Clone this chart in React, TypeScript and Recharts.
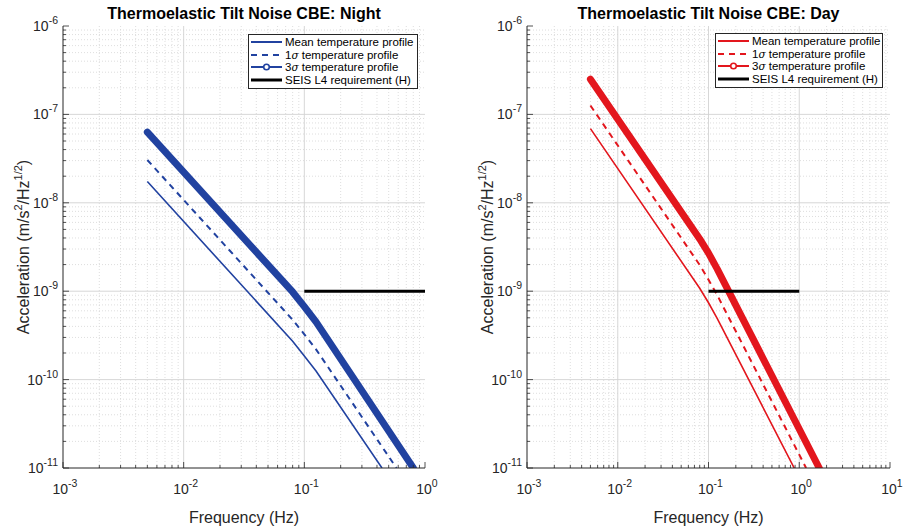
import { Legend, Line, LineChart, ReferenceLine, XAxis, YAxis } from "recharts";

const FONT = '"Liberation Sans", Arial, Helvetica, sans-serif';
const INK = "#262626";
const BLUE = "#2142a0";
const RED = "#e3161d";

// night profiles
const nightFreqMean = [0.005, 0.08, 0.1, 0.125, 0.44];
const nightMean = [1.74e-8, 2.72e-10, 1.85e-10, 1.25e-10, 1.0e-11];
const nightFreq1s = [0.005, 0.08, 0.1, 0.125, 0.58];
const night1s = [3.05e-8, 4.75e-10, 3.25e-10, 2.2e-10, 1.0e-11];
const nightFreq3s = [0.005, 0.08, 0.1, 0.125, 0.8];
const night3s = [6.3e-8, 9.8e-10, 6.7e-10, 4.5e-10, 1.0e-11];

// day profiles (right panel)
const dayFreqMean = [0.005, 0.08, 0.1, 0.125, 0.88];
const dayMean = [6.9e-8, 1.08e-9, 7.4e-10, 4.9e-10, 1.0e-11];
const dayFreq1s = [0.005, 0.08, 0.1, 0.125, 1.19];
const day1s = [1.26e-7, 1.98e-9, 1.35e-9, 9.0e-10, 1.0e-11];
const dayFreq3s = [0.005, 0.08, 0.1, 0.125, 1.66];
const day3s = [2.5e-7, 3.9e-9, 2.7e-9, 1.78e-9, 1.0e-11];

// SEIS L4 requirement
const reqFreq = [0.1, 1];
const reqLevel = [1e-9, 1e-9];

const seriesNames = [
  "Mean temperature profile",
  "1σ temperature profile",
  "3σ temperature profile",
  "SEIS L4 requirement (H)",
];

const yDecades = [1e-11, 1e-10, 1e-9, 1e-8, 1e-7, 1e-6];
const xDecadesNight = [1e-3, 1e-2, 1e-1, 1];
const xDecadesDay = [1e-3, 1e-2, 1e-1, 1, 10];
const minorSteps = [2, 3, 4, 5, 6, 7, 8, 9];

const pts = (fs: number[], as: number[]) => fs.map((f, i) => ({ f, a: as[i] }));
const minors = (decades: number[]) =>
  decades.slice(0, -1).flatMap((d) => minorSteps.map((m) => m * d));
const isMajor = (v: number) => Math.abs(Math.log10(v) - Math.round(Math.log10(v))) < 1e-6;
const expOf = (v: number) => Math.round(Math.log10(v));

function BottomTick(props: any) {
  const { x, y, payload } = props;
  const v = payload.value;
  const major = isMajor(v);
  return (
    <g>
      <line x1={x} y1={y} x2={x} y2={y - (major ? 6 : 3)} stroke={INK} strokeWidth={0.8} />
      {major && (
        <text x={x + 2} y={y + 26} textAnchor="middle" fontSize={14} fontFamily={FONT} fill={INK}>
          <tspan>10</tspan>
          <tspan dy={-7} fontSize={10.5}>
            {expOf(v)}
          </tspan>
        </text>
      )}
    </g>
  );
}

function LeftTick(props: any) {
  const { x, y, payload } = props;
  const v = payload.value;
  const major = isMajor(v);
  return (
    <g>
      <line x1={x} y1={y} x2={x + (major ? 6 : 3)} y2={y} stroke={INK} strokeWidth={0.8} />
      {major && (
        <text x={x - 5} y={y + 5} textAnchor="end" fontSize={14} fontFamily={FONT} fill={INK}>
          <tspan>10</tspan>
          <tspan dy={-7} fontSize={10.5}>
            {expOf(v)}
          </tspan>
        </text>
      )}
    </g>
  );
}

function TopTick(props: any) {
  const { x, y, payload } = props;
  const len = isMajor(payload.value) ? 6 : 3;
  return <line x1={x} y1={y} x2={x} y2={y + len} stroke={INK} strokeWidth={0.8} />;
}

function RightTick(props: any) {
  const { x, y, payload } = props;
  const len = isMajor(payload.value) ? 6 : 3;
  return <line x1={x} y1={y} x2={x - len} y2={y} stroke={INK} strokeWidth={0.8} />;
}

function LegendBox({ payload }: any) {
  const items = [...(payload || [])].sort(
    (a: any, b: any) => seriesNames.indexOf(a.value) - seriesNames.indexOf(b.value)
  );
  return (
    <div
      style={{
        border: `1px solid ${INK}`,
        background: "#fff",
        boxSizing: "border-box",
        height: "100%",
        padding: "1px 0 0 1px",
        fontFamily: FONT,
        fontSize: 11.5,
        color: "#000",
      }}
    >
      {items.map((e: any) => {
        const name: string = e.value;
        const parts = name.split("σ");
        const p = e.payload || {};
        const marker = name.startsWith("3");
        return (
          <div key={name} style={{ display: "flex", alignItems: "center", height: 12.6, whiteSpace: "nowrap" }}>
            <svg width={33} height={10} style={{ flex: "none" }}>
              <line
                x1={1}
                y1={5}
                x2={32}
                y2={5}
                stroke={e.color}
                strokeWidth={marker ? 2 : Math.max(p.strokeWidth || 2, 2)}
                strokeDasharray={p.strokeDasharray}
              />
              {marker && <circle cx={16.5} cy={5} r={2.8} fill="#fff" stroke={e.color} strokeWidth={1.6} />}
            </svg>
            <span style={{ marginLeft: 2 }}>
              {parts.length > 1 ? (
                <>
                  {parts[0]}
                  <i style={{ fontFamily: "'DejaVu Serif', serif", fontSize: 10.5 }}>σ</i>
                  {parts[1]}
                </>
              ) : (
                name
              )}
            </span>
          </div>
        );
      })}
    </div>
  );
}

interface PanelProps {
  title: string;
  color: string;
  xDecades: number[];
  mean: { f: number; a: number }[];
  one: { f: number; a: number }[];
  three: { f: number; a: number }[];
  req: { f: number; a: number }[];
  width: number;
  axisW: number;
  rightM: number;
  legendPos: { left: number; top: number; width: number; height: number };
}

function Panel(p: PanelProps) {
  const xMin = p.xDecades[0];
  const xMax = p.xDecades[p.xDecades.length - 1];
  const xMinor = minors(p.xDecades);
  const yMinor = minors(yDecades);
  const xTicks = [...p.xDecades, ...xMinor].sort((a, b) => a - b);
  const yTicks = [...yDecades, ...yMinor].sort((a, b) => a - b);
  const plotL = p.axisW;
  const plotR = p.width - p.rightM;
  const cx = (plotL + plotR) / 2;
  const cy = (26 + 468) / 2;
  const ylx = plotL - 34;
  return (
    <LineChart width={p.width} height={530} margin={{ top: 26, right: p.rightM, left: 0, bottom: 0 }}>
      {xMinor.map((v) => (
        <ReferenceLine key={"xm" + v} x={v} stroke="#d6d6d6" strokeWidth={0.8} strokeDasharray="1 2" />
      ))}
      {yMinor.map((v) => (
        <ReferenceLine key={"ym" + v} y={v} stroke="#d6d6d6" strokeWidth={0.8} strokeDasharray="1 2" />
      ))}
      {p.xDecades.slice(1, -1).map((v) => (
        <ReferenceLine key={"xM" + v} x={v} stroke="#d2d2d2" strokeWidth={0.9} />
      ))}
      {yDecades.slice(1, -1).map((v) => (
        <ReferenceLine key={"yM" + v} y={v} stroke="#d2d2d2" strokeWidth={0.9} />
      ))}
      <XAxis
        dataKey="f"
        type="number"
        scale="log"
        domain={[xMin, xMax]}
        allowDataOverflow
        ticks={xTicks}
        interval={0}
        tick={<BottomTick />}
        tickLine={false}
        tickSize={0}
        tickMargin={0}
        height={62}
        axisLine={{ stroke: INK }}
      />
      <XAxis
        xAxisId="top"
        orientation="top"
        dataKey="f"
        type="number"
        scale="log"
        domain={[xMin, xMax]}
        allowDataOverflow
        ticks={xTicks}
        interval={0}
        tick={<TopTick />}
        tickLine={false}
        tickSize={0}
        tickMargin={0}
        height={0}
        axisLine={{ stroke: INK }}
      />
      <YAxis
        type="number"
        scale="log"
        domain={[1e-11, 1e-6]}
        allowDataOverflow
        ticks={yTicks}
        interval={0}
        tick={<LeftTick />}
        tickLine={false}
        tickSize={0}
        tickMargin={0}
        width={p.axisW}
        axisLine={{ stroke: INK }}
      />
      <YAxis
        yAxisId="right"
        orientation="right"
        type="number"
        scale="log"
        domain={[1e-11, 1e-6]}
        allowDataOverflow
        ticks={yTicks}
        interval={0}
        tick={<RightTick />}
        tickLine={false}
        tickSize={0}
        tickMargin={0}
        width={0}
        axisLine={{ stroke: INK }}
      />
      <Line
        data={p.mean}
        dataKey="a"
        name={seriesNames[0]}
        stroke={p.color}
        strokeWidth={1.6}
        dot={false}
        isAnimationActive={false}
      />
      <Line
        data={p.one}
        dataKey="a"
        name={seriesNames[1]}
        stroke={p.color}
        strokeWidth={2}
        strokeDasharray="6 5"
        dot={false}
        isAnimationActive={false}
      />
      <Line
        data={p.three}
        dataKey="a"
        name={seriesNames[2]}
        stroke={p.color}
        strokeWidth={7}
        strokeLinecap="round"
        strokeLinejoin="round"
        dot={false}
        isAnimationActive={false}
      />
      <Line
        data={p.req}
        dataKey="a"
        name={seriesNames[3]}
        stroke="#000"
        strokeWidth={3}
        dot={false}
        isAnimationActive={false}
      />
      <Legend
        layout="vertical"
        align="center"
        verticalAlign="middle"
        content={<LegendBox />}
        wrapperStyle={{ ...p.legendPos, position: "absolute" }}
      />
      <text x={cx} y={19} textAnchor="middle" fontSize={16} fontWeight="bold" fontFamily={FONT} fill="#000">
        {p.title}
      </text>
      <text x={cx} y={523} textAnchor="middle" fontSize={16} fontFamily={FONT} fill={INK}>
        Frequency (Hz)
      </text>
      <text
        x={ylx}
        y={cy}
        transform={`rotate(-90 ${ylx} ${cy})`}
        textAnchor="middle"
        fontSize={16}
        fontFamily={FONT}
        fill={INK}
      >
        <tspan>Acceleration (m/s</tspan>
        <tspan dy={-7} fontSize={11}>
          2
        </tspan>
        <tspan dy={7}>/Hz</tspan>
        <tspan dy={-7} fontSize={11}>
          1/2
        </tspan>
        <tspan dy={7}>)</tspan>
      </text>
    </LineChart>
  );
}

export default function App() {
  return (
    <div style={{ position: "absolute", left: 0, top: 0, width: 903, height: 530, background: "#fff" }}>
      <div style={{ position: "absolute", left: 0, top: 0 }}>
        <Panel
          title="Thermoelastic Tilt Noise CBE: Night"
          color={BLUE}
          xDecades={xDecadesNight}
          mean={pts(nightFreqMean, nightMean)}
          one={pts(nightFreq1s, night1s)}
          three={pts(nightFreq3s, night3s)}
          req={pts(reqFreq, reqLevel)}
          width={450}
          axisW={63}
          rightM={25}
          legendPos={{ left: 248, top: 34, width: 170, height: 55 }}
        />
      </div>
      <div style={{ position: "absolute", left: 450, top: 0 }}>
        <Panel
          title="Thermoelastic Tilt Noise CBE: Day"
          color={RED}
          xDecades={xDecadesDay}
          mean={pts(dayFreqMean, dayMean)}
          one={pts(dayFreq1s, day1s)}
          three={pts(dayFreq3s, day3s)}
          req={pts(reqFreq, reqLevel)}
          width={453}
          axisW={77}
          rightM={13}
          legendPos={{ left: 265, top: 33, width: 168, height: 55 }}
        />
      </div>
    </div>
  );
}
